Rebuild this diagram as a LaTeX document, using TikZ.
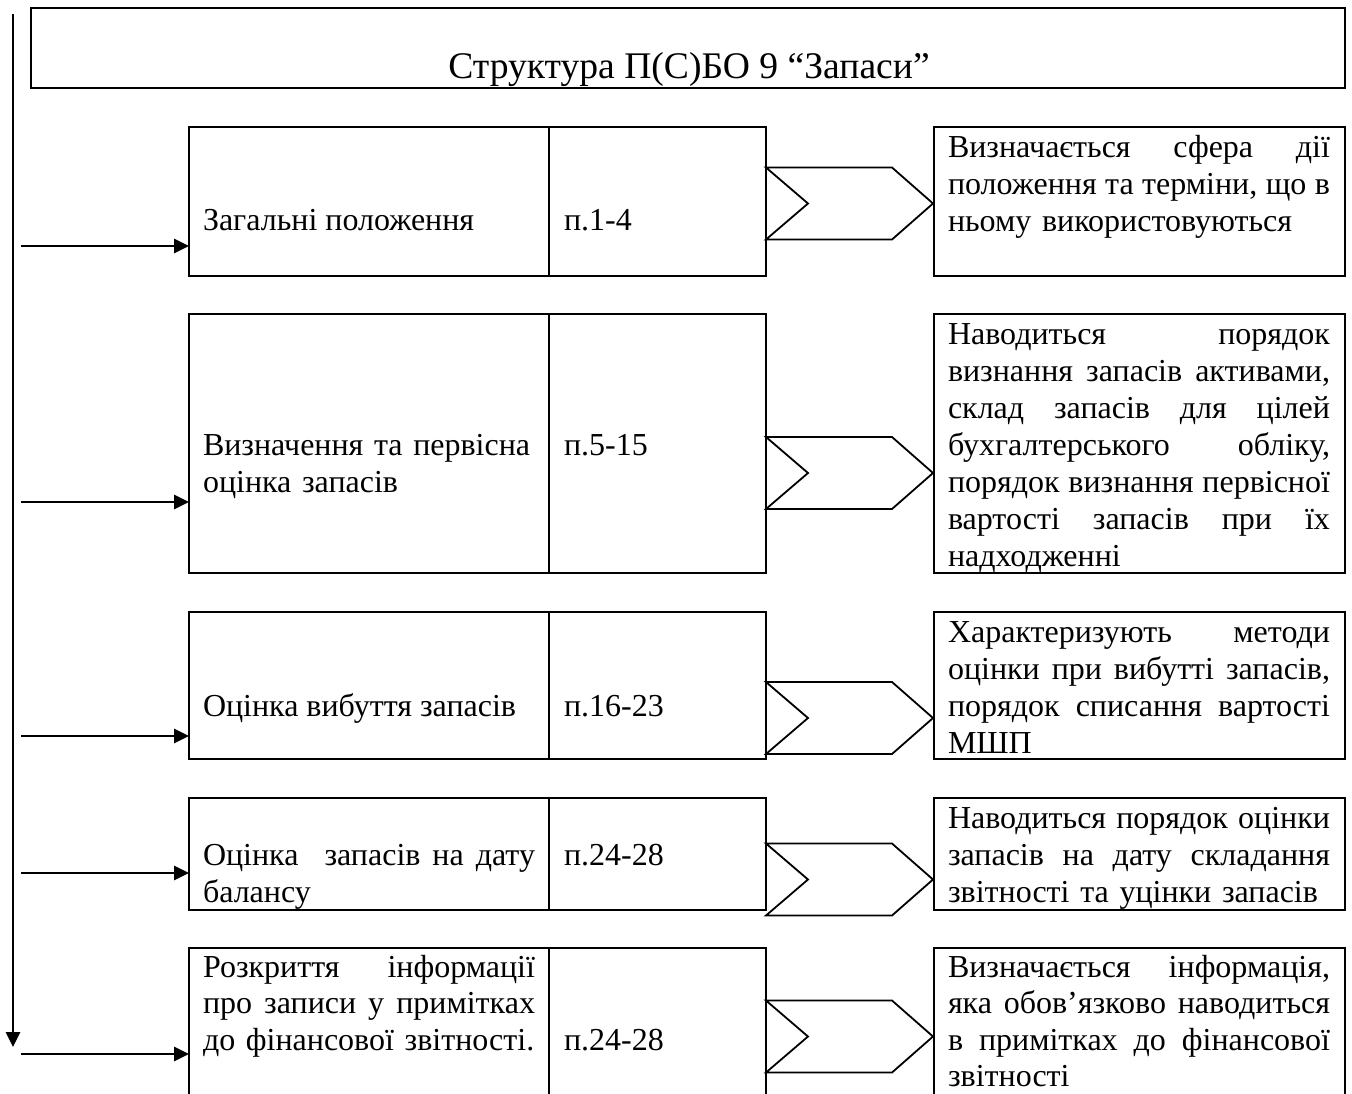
\documentclass[tikz,border=0pt]{standalone}
\usepackage{fontspec}
\setmainfont{Liberation Serif}
\usetikzlibrary{arrows.meta}
\newcommand\firstl{\rule{0pt}{28pt}}
\newcommand\jr[1]{\leavevmode\hbox to 382pt{\spaceskip=8pt plus 1fil minus 3pt\relax #1}}
\newcommand\jlt[1]{\leavevmode\hbox to 332pt{\spaceskip=8pt plus 1fil minus 3pt\relax #1}}
\begin{document}
\begin{tikzpicture}[x=1pt,y=-1pt,
  cell/.style={draw, line width=2.7pt, inner sep=0pt, outer sep=0pt, anchor=north west},
  txt/.style={inner sep=0pt, outer sep=0pt, font=\fontsize{32}{37}\selectfont},
  rtxt/.style={txt, anchor=north west, text width=382pt, align=left},
  ltxt/.style={txt, anchor=north west, text width=332pt, align=left},
  chev/.style={draw, line width=1.8pt, line join=miter},
  arr/.style={line width=2.7pt, -{Triangle[length=15pt,width=14pt]}}]
\useasboundingbox (0,0) rectangle (1352,1093);
\clip (0,0) rectangle (1352,1093);

% title
\node[cell, minimum width=1314pt, minimum height=80pt] (T) at (31,8) {};
\node[txt, anchor=base, font=\fontsize{37.6}{40}\selectfont] (Tt) at (689,78) {Структура П(С)БО 9 “Запаси”};

% row boxes
\node[cell, minimum width=360pt, minimum height=149pt] (L1) at (189,127) {};
\node[cell, minimum width=217pt, minimum height=149pt] (M1) at (549,127) {};
\node[cell, minimum width=411pt, minimum height=149pt] (R1) at (934,127) {};

\node[cell, minimum width=360pt, minimum height=259pt] (L2) at (189,314) {};
\node[cell, minimum width=217pt, minimum height=259pt] (M2) at (549,314) {};
\node[cell, minimum width=411pt, minimum height=259pt] (R2) at (934,314) {};

\node[cell, minimum width=360pt, minimum height=147pt] (L3) at (189,612) {};
\node[cell, minimum width=217pt, minimum height=147pt] (M3) at (549,612) {};
\node[cell, minimum width=411pt, minimum height=147pt] (R3) at (934,612) {};

\node[cell, minimum width=360pt, minimum height=112pt] (L4) at (189,798) {};
\node[cell, minimum width=217pt, minimum height=112pt] (M4) at (549,798) {};
\node[cell, minimum width=411pt, minimum height=112pt] (R4) at (934,798) {};

\node[cell, minimum width=360pt, minimum height=148pt] (L5) at (189,948) {};
\node[cell, minimum width=217pt, minimum height=148pt] (M5) at (549,948) {};
\node[cell, minimum width=411pt, minimum height=148pt] (R5) at (934,948) {};

% left texts
\node[txt, anchor=base west] (tL1) at (203,230) {Загальні положення};
\node[ltxt] (tL2) at (203,427) {\firstl Визначення та первісна\\оцінка запасів};
\node[txt, anchor=base west] (tL3) at (203,716) {Оцінка вибуття запасів};
\node[ltxt] (tL4) at (203,837) {\firstl\jlt{Оцінка\hspace{14pt} запасів на дату}\\балансу};
\node[ltxt, font=\fontsize{32}{36.5}\selectfont] (tL5) at (203,949) {\firstl\jlt{Розкриття інформації}\\\jlt{про записи у примітках}\\до фінансової звітності.};

% middle texts
\node[txt, anchor=base west] (tM1) at (564,230) {п.1-4};
\node[txt, anchor=base west] (tM2) at (564,455) {п.5-15};
\node[txt, anchor=base west] (tM3) at (564,716) {п.16-23};
\node[txt, anchor=base west] (tM4) at (564,865) {п.24-28};
\node[txt, anchor=base west] (tM5) at (564,1050) {п.24-28};

% right texts
\node[rtxt] (tR1) at (948,129) {\firstl\jr{Визначається сфера дії}\\\jr{положення та терміни, що в}\\ньому використовуються};
\node[rtxt] (tR2) at (948,316) {\firstl\jr{Наводиться порядок}\\\jr{визнання запасів активами,}\\\jr{склад запасів для цілей}\\\jr{бухгалтерського обліку,}\\\jr{порядок визнання первісної}\\\jr{вартості запасів при їх}\\надходженні};
\node[rtxt] (tR3) at (948,614) {\firstl\jr{Характеризують методи}\\\jr{оцінки при вибутті запасів,}\\\jr{порядок списання вартості}\\МШП};
\node[rtxt] (tR4) at (948,800) {\firstl\jr{Наводиться порядок оцінки}\\\jr{запасів на дату складання}\\звітності та уцінки запасів};
\node[rtxt, font=\fontsize{32}{36.5}\selectfont] (tR5) at (948,949) {\firstl\jr{Визначається інформація,}\\\jr{яка обов’язково наводиться}\\\jr{в примітках до фінансової}\\звітності};

% chevrons
\foreach \c in {203.5,473,718,879.5,1036.5}{
  \draw[chev] (766,\c-36) -- (892,\c-36) -- (933,\c) -- (892,\c+36) -- (766,\c+36) -- (808,\c) -- cycle;
}

% vertical line and arrows
\coordinate (vtop) at (13,14);
\coordinate (vend) at (13,1047);
\draw[arr] (vtop) -- (vend);

\coordinate (s1) at (21,246);
\coordinate (s2) at (21,502);
\coordinate (s3) at (21,736);
\coordinate (s4) at (21,873);
\coordinate (s5) at (21,1054);
\draw[arr] (s1) -- (s1 -| L1.west);
\draw[arr] (s2) -- (s2 -| L2.west);
\draw[arr] (s3) -- (s3 -| L3.west);
\draw[arr] (s4) -- (s4 -| L4.west);
\draw[arr] (s5) -- (s5 -| L5.west);
\end{tikzpicture}
\end{document}
